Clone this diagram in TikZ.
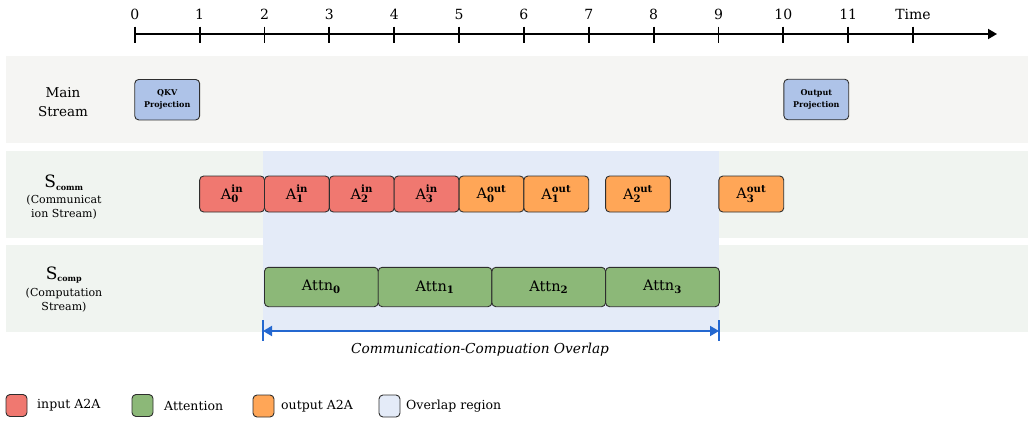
\documentclass[tikz,border=0pt]{standalone}
\usepackage{fontspec}
\usepackage{amsmath}
\setmainfont{DejaVu Serif}
\usetikzlibrary{arrows.meta}
\definecolor{inred}{HTML}{F07870}
\definecolor{outorange}{HTML}{FFA657}
\definecolor{attgreen}{HTML}{8CB878}
\definecolor{projblue}{HTML}{AEC3E8}
\definecolor{ovblue}{HTML}{E4EBF8}
\definecolor{mainband}{HTML}{F5F5F3}
\definecolor{sideband}{HTML}{F0F4F0}
\definecolor{boxline}{HTML}{2E2E2E}
\definecolor{arrblue}{HTML}{2468D0}
\newcommand{\Aio}[2]{$\text{A}^{\text{\bfseries #1}}_{\text{\bfseries #2}}$}
\newcommand{\Attn}[1]{Attn$_{\text{\bfseries #1}}$}
\tikzset{
  blk/.style={draw=boxline, line width=0.9pt, rounded corners=4pt, inner sep=0pt, anchor=center},
  commbox/.style={blk, minimum width=64.85pt, minimum height=36pt, font=\fontsize{14.5}{16}\selectfont},
  attbox/.style={blk, fill=attgreen, minimum width=113.7pt, minimum height=39.4pt, font=\fontsize{14.5}{16}\selectfont},
  projbox/.style={blk, fill=projblue, minimum width=64.85pt, minimum height=40.5pt, align=center, font=\fontsize{8}{12}\selectfont\bfseries},
  legbox/.style={blk, minimum width=21pt, minimum height=22pt},
  legtext/.style={anchor=west, inner sep=0pt, font=\fontsize{12.5}{14}\selectfont},
  ticklab/.style={inner sep=0pt, font=\fontsize{14}{15}\selectfont},
  streamlab/.style={align=center, inner sep=0pt},
}
\begin{document}
\begin{tikzpicture}[x=1pt,y=-1pt]
\useasboundingbox (0,0) rectangle (1028,423);
% bands
\fill[mainband] (6,56) rectangle (1028,142.5);
\fill[sideband] (6,151) rectangle (1028,238);
\fill[sideband] (6,245) rectangle (1028,332);
\fill[ovblue] (263,151) rectangle (719,332);
% timeline
\coordinate (tstart) at (134,34);
\coordinate (tend) at (997,34);
\draw[line width=1.8pt, -{Triangle[length=9pt,width=10pt]}] (tstart) -- (tend);
\foreach \i in {0,...,11}{
  \draw[line width=1.8pt] ({134.8+64.85*\i},26.5) -- ({134.8+64.85*\i},43);
  \node[ticklab] (tl\i) at ({134.8+64.85*\i},14) {\i};
}
\draw[line width=1.8pt] (913,26.5) -- (913,43);
\node[ticklab] (tltime) at (913,14) {Time};
% stream labels
\node[streamlab, font=\fontsize{13.5}{19}\selectfont] (mainlab) at (63,102) {Main\\Stream};
\node[streamlab, font=\fontsize{17}{18}\selectfont] (scomm) at (64,183) {S$_{\text{\fontsize{8}{8}\selectfont\bfseries comm}}$};
\node[streamlab, font=\fontsize{11}{14}\selectfont] (scommsub) at (64,207) {(Communicat\\ion Stream)};
\node[streamlab, font=\fontsize{17}{18}\selectfont] (scomp) at (64,275) {S$_{\text{\fontsize{8}{8}\selectfont\bfseries comp}}$};
\node[streamlab, font=\fontsize{11}{14}\selectfont] (scompsub) at (64,300) {(Computation\\Stream)};
% main stream boxes
\node[projbox] (qkv) at (167.2,99.7) {QKV\\Projection};
\node[projbox] (outp) at (816.3,99.5) {Output\\Projection};
% comm boxes
\node[commbox, fill=inred] (ai0) at (232.1,194) {\Aio{in}{0}};
\node[commbox, fill=inred] (ai1) at (296.9,194) {\Aio{in}{1}};
\node[commbox, fill=inred] (ai2) at (361.8,194) {\Aio{in}{2}};
\node[commbox, fill=inred] (ai3) at (426.6,194) {\Aio{in}{3}};
\node[commbox, fill=outorange] (ao0) at (491.5,194) {\Aio{out}{0}};
\node[commbox, fill=outorange] (ao1) at (556.3,194) {\Aio{out}{1}};
\node[commbox, fill=outorange] (ao2) at (638,194) {\Aio{out}{2}};
\node[commbox, fill=outorange] (ao3) at (751.3,194) {\Aio{out}{3}};
% attention boxes
\node[attbox] (at0) at (321.35,287) {\Attn{0}};
\node[attbox] (at1) at (435.05,287) {\Attn{1}};
\node[attbox] (at2) at (548.75,287) {\Attn{2}};
\node[attbox] (at3) at (662.45,287) {\Attn{3}};
% overlap arrow
\coordinate (ovL) at (263,331);
\coordinate (ovR) at (719,331);
\coordinate (ovLt) at (263,320);
\coordinate (ovLb) at (263,341);
\coordinate (ovRt) at (719,320);
\coordinate (ovRb) at (719,341);
\draw[arrblue, line width=1.5pt] (ovLt) -- (ovLb);
\draw[arrblue, line width=1.5pt] (ovRt) -- (ovRb);
\draw[arrblue, line width=1.8pt, {Triangle[length=9pt,width=10pt]}-{Triangle[length=9pt,width=10pt]}] (ovL) -- (ovR);
\node[inner sep=0pt, font=\fontsize{13.7}{15}\selectfont\itshape] (ovlab) at (480,349.5) {Communication-Compuation Overlap};
% legend
\node[legbox, fill=inred] (lg1) at (16.5,405.5) {};
\node[legtext] (lg1t) at (37,405.5) {input A2A};
\node[legbox, fill=attgreen] (lg2) at (142.5,405.5) {};
\node[legtext] (lg2t) at (164,405.5) {Attention};
\node[legbox, fill=outorange] (lg3) at (263.5,406) {};
\node[legtext] (lg3t) at (281,406) {output A2A};
\node[legbox, fill=ovblue] (lg4) at (389.5,406) {};
\node[legtext] (lg4t) at (406,406) {Overlap region};
\end{tikzpicture}
\end{document}
